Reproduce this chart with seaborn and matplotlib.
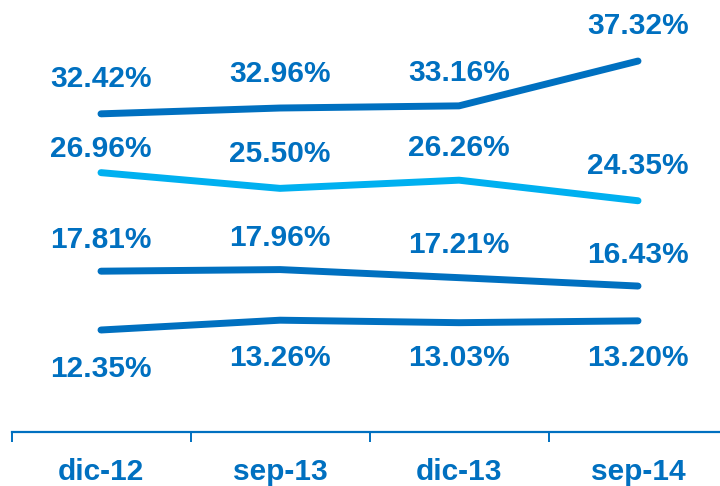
import matplotlib
matplotlib.use("Agg")
import matplotlib.pyplot as plt
import seaborn as sns
import pandas as pd

# Periods and the four percentage series
periods = ["dic-12", "sep-13", "dic-13", "sep-14"]
serie_1 = [32.42, 32.96, 33.16, 37.32]
serie_2 = [26.96, 25.50, 26.26, 24.35]
serie_3 = [17.81, 17.96, 17.21, 16.43]
serie_4 = [12.35, 13.26, 13.03, 13.20]

series = {"serie_1": serie_1, "serie_2": serie_2, "serie_3": serie_3, "serie_4": serie_4}

DARK = "#0070C0"
LIGHT = "#00B0F0"
palette = {"serie_1": DARK, "serie_2": LIGHT, "serie_3": DARK, "serie_4": DARK}

# Vertical offsets (pixels) of each value label from its point
label_dy_px = {
    "serie_1": [35, 34, 33, 35],
    "serie_2": [24, 34, 32, 35],
    "serie_3": [31, 32, 33, 31],
    "serie_4": [-39, -38, -35, -37],
}

rows = []
for name, vals in series.items():
    for i, (p, v) in enumerate(zip(periods, vals)):
        rows.append({"serie": name, "pos": i, "periodo": p, "valor": v})
df = pd.DataFrame(rows)

sns.set_theme(style="white")
plt.rcParams["font.family"] = ["Liberation Sans", "DejaVu Sans"]

fig = plt.figure(figsize=(7.2, 4.86), dpi=100)
ax = fig.add_axes([11.5 / 720, 54 / 486, (720 - 11.5) / 720, 422 / 486])

sns.lineplot(
    data=df, x="pos", y="valor", hue="serie", palette=palette,
    linewidth=5, legend=False, sort=False, ax=ax,
    solid_capstyle="round", solid_joinstyle="round",
)

FS = 21.5
for name, vals in series.items():
    for i, v in enumerate(vals):
        dy = label_dy_px[name][i] * 0.72
        ax.annotate(f"{v:.2f}%", xy=(i, v), xytext=(0, dy), textcoords="offset points",
                    ha="center", va="center", fontsize=FS, fontweight="bold", color=DARK)

ax.set_xlim(-0.5, -0.5 + (720 - 11.5) / 179)
ax.set_ylim(2.88, 42.06)

for s in ["top", "right", "left"]:
    ax.spines[s].set_visible(False)
ax.spines["bottom"].set_color(DARK)
ax.spines["bottom"].set_linewidth(1.6)

ax.set_yticks([])
ax.set_xticks(range(len(periods)))
ax.set_xticklabels(periods, fontsize=FS, fontweight="bold", color=DARK)
ax.tick_params(axis="x", which="major", length=0, pad=19)
ax.set_xticks([-0.5, 0.5, 1.5, 2.5], minor=True)
ax.tick_params(axis="x", which="minor", length=7.2, width=1.4, color=DARK, direction="out", bottom=True)
ax.set_xlabel("")
ax.set_ylabel("")

fig.savefig("out.png", dpi=100)
